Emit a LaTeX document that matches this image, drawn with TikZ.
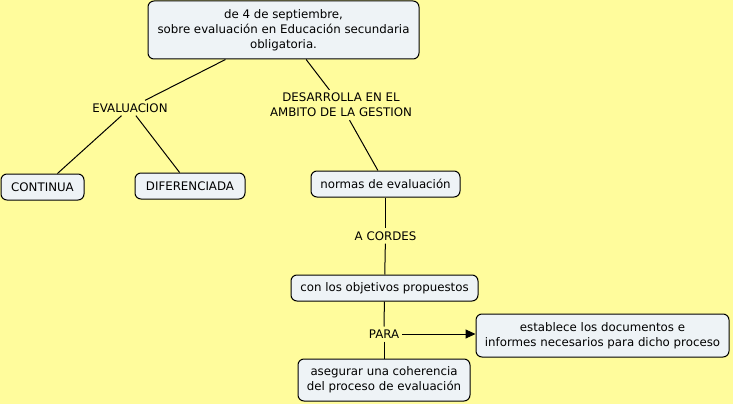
\documentclass[tikz,border=0pt]{standalone}
\usepackage{fontspec}
\setmainfont{DejaVu Sans}
\usetikzlibrary{arrows.meta}
\definecolor{bg}{RGB}{255,252,156}
\definecolor{boxfill}{RGB}{238,243,246}
\tikzset{
  concept/.style={draw=black, line width=1pt, fill=boxfill, rounded corners=6pt, align=center, inner sep=2pt, font=\fontsize{11.8}{15}\selectfont},
  linkl/.style={align=center, inner sep=3pt, font=\fontsize{11.8}{15}\selectfont},
  conn/.style={line width=1pt, draw=black}
}
\begin{document}
\begin{tikzpicture}[x=1pt,y=-1pt]
\fill[bg] (0,0) rectangle (733,404);
\useasboundingbox (0,0) rectangle (733,404);
\node[concept, minimum width=271pt, minimum height=58pt] (top) at (283.5,30) {de 4 de septiembre,\\sobre evaluación en Educación secundaria\\obligatoria.};
\node[linkl] (eval) at (130,108) {EVALUACION};
\node[linkl] (des) at (341,105) {DESARROLLA EN EL\\AMBITO DE LA GESTION};
\node[concept, minimum width=83pt, minimum height=26pt] (cont) at (42.5,187) {CONTINUA};
\node[concept, minimum width=110pt, minimum height=26pt] (dif) at (190,186) {DIFERENCIADA};
\node[concept, minimum width=149pt, minimum height=26pt] (norm) at (385.5,184) {normas de evaluación};
\node[linkl] (acor) at (385.5,236) {A CORDES};
\node[concept, minimum width=187pt, minimum height=26pt] (obj) at (384.5,288) {con los objetivos propuestos};
\node[linkl] (para) at (384,334) {PARA};
\node[concept, minimum width=253pt, minimum height=43pt] (est) at (602.5,335.5) {establece los documentos e\\informes necesarios para dicho proceso};
\node[concept, minimum width=172pt, minimum height=42pt] (ase) at (384,380) {asegurar una coherencia\\del proceso de evaluación};
\draw[conn] (top) -- (eval);
\draw[conn] (eval) -- (cont);
\draw[conn] (eval) -- (dif);
\draw[conn] (top) -- (des);
\draw[conn] (des) -- (norm);
\draw[conn] (norm) -- (acor);
\draw[conn] (acor) -- (obj);
\draw[conn] (obj) -- (para);
\draw[conn] (para) -- (ase);
\draw[conn, -{Triangle[length=10pt,width=9pt]}] (para.east) -- (para.east -| est.west);
\end{tikzpicture}
\end{document}
